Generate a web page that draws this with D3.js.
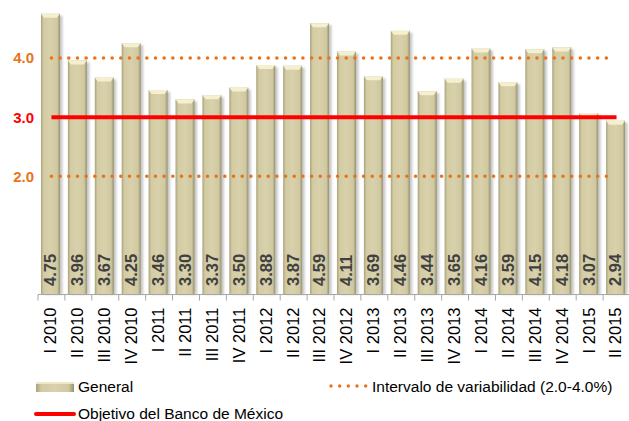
<!DOCTYPE html>
<html><head><meta charset="utf-8">
<script src="https://cdn.jsdelivr.net/npm/d3@7"></script>
<style>body{margin:0;background:#fff}svg{display:block}</style>
</head><body>
<script>
const categories = ["I 2010","II 2010","III 2010","IV 2010","I 2011","II 2011","III 2011","IV 2011","I 2012","II 2012","III 2012","IV 2012","I 2013","II 2013","III 2013","IV 2013","I 2014","II 2014","III 2014","IV 2014","I 2015","II 2015"];
const general = [4.75,3.96,3.67,4.25,3.46,3.30,3.37,3.50,3.88,3.87,4.59,4.11,3.69,4.46,3.44,3.65,4.16,3.59,4.15,4.18,3.07,2.94];
const target = 3.0;
const band = [2.0, 4.0];
const yTicks = [2.0, 3.0, 4.0];
const legendLabels = ["General","Intervalo de variabilidad (2.0-4.0%)","Objetivo del Banco de México"];

const W = 629, H = 421;
const svg = d3.select("body").append("svg").attr("width", W).attr("height", H);
const font = "'Liberation Sans', Arial, sans-serif";
const orange = "#E8731A", red = "#FF0000";

const x = d3.scaleBand().domain(categories).range([38, 630]).padding(0);
const y = d3.scaleLinear().domain([0, 5]).range([294.5, -1.1]);

const defs = svg.append("defs");
const g1 = defs.append("linearGradient").attr("id","barg").attr("x1","0").attr("x2","1").attr("y1","0").attr("y2","0");
[[0,"#A9A37D"],[0.14,"#D2CBA3"],[0.5,"#D8D1AB"],[0.86,"#CFC8A0"],[1,"#97916C"]].forEach(([o,c])=>g1.append("stop").attr("offset",o).attr("stop-color",c));
const f = defs.append("filter").attr("id","sh").attr("x","-50%").attr("y","-10%").attr("width","200%").attr("height","120%");
f.append("feGaussianBlur").attr("stdDeviation",1.2);

const bw = 19;
const bx = d => x(d) + x.bandwidth()/2 - bw/2 - 1;

// shadows
svg.append("g").selectAll("rect").data(categories).join("rect")
  .attr("x", d => bx(d) + 2.5).attr("y", (d,i) => y(general[i]) + 2)
  .attr("width", bw).attr("height", (d,i) => y(0) - y(general[i]) - 2)
  .attr("fill", "#9a9a9a").attr("opacity", 0.55).attr("filter","url(#sh)");
// bars
svg.append("g").selectAll("rect").data(categories).join("rect")
  .attr("x", d => bx(d)).attr("y", (d,i) => y(general[i]))
  .attr("width", bw).attr("height", (d,i) => y(0) - y(general[i]))
  .attr("fill", "url(#barg)");
// top bevel highlight
svg.append("g").selectAll("path").data(categories).join("path")
  .attr("d", (d,i) => { const x0 = bx(d), t = y(general[i]); return `M${x0},${t}L${x0+bw},${t}L${x0+bw-3},${t+4}L${x0+3},${t+4}Z`; })
  .attr("fill", "#F3EFCF");

// axis
const axisG = svg.append("g").attr("transform", `translate(0,${y(0)})`);
axisG.append("line").attr("x1", 38).attr("x2", 630).attr("stroke", "#A6A6A6");
axisG.selectAll("line.t").data(categories.concat(["_end"])).join("line").attr("class","t")
  .attr("x1", (d,i) => 38 + i*x.bandwidth()).attr("x2", (d,i) => 38 + i*x.bandwidth())
  .attr("y1", 0).attr("y2", 6).attr("stroke", "#A6A6A6");
axisG.selectAll("text").data(categories).join("text")
  .attr("transform", d => `translate(${x(d)+x.bandwidth()/2 - 1},13) rotate(-90)`)
  .attr("text-anchor","end").attr("dy","0.36em")
  .attr("font-family", font).attr("font-size", 16.5).attr("fill", "#000")
  .text(d => d);

// value labels
svg.append("g").selectAll("text").data(categories).join("text")
  .attr("transform", d => `translate(${bx(d)+bw/2},286) rotate(-90)`)
  .attr("text-anchor","start").attr("dy","0.36em")
  .attr("font-family", font).attr("font-size", 16.5).attr("font-weight","bold").attr("fill", "#404040")
  .text((d,i) => general[i].toFixed(2));

// variability band lines
const xc0 = x(categories[0]) + x.bandwidth()/2, xc1 = x(categories[categories.length-1]) + x.bandwidth()/2 - 2;
svg.append("g").selectAll("line").data(band).join("line")
  .attr("x1", xc0).attr("x2", xc1).attr("y1", d => y(d)).attr("y2", d => y(d))
  .attr("stroke", orange).attr("stroke-width", 3.6).attr("stroke-linecap","round")
  .attr("stroke-dasharray", "0 8.67");
// target line
svg.append("line").attr("x1", xc0).attr("x2", xc1 + 2).attr("y1", y(target)).attr("y2", y(target))
  .attr("stroke", red).attr("stroke-width", 4);

// y tick labels
svg.append("g").selectAll("text").data(yTicks).join("text")
  .attr("x", 34).attr("y", d => y(d)).attr("dy","0.36em").attr("text-anchor","end")
  .attr("font-family", font).attr("font-size", 15).attr("font-weight","bold")
  .attr("fill", d => d === target ? red : orange)
  .text(d => d.toFixed(1));

// legend
const lg = svg.append("g").attr("font-family", font).attr("font-size", 15.5).attr("fill","#000");
lg.append("rect").attr("x", 36).attr("y", 382).attr("width", 38).attr("height", 10).attr("fill","url(#barg)");
lg.append("rect").attr("x", 36).attr("y", 382).attr("width", 38).attr("height", 2).attr("fill","#EDE8C8");
lg.append("text").attr("x", 78).attr("y", 392).text(legendLabels[0]);
lg.append("line").attr("x1", 331).attr("x2", 367).attr("y1", 386).attr("y2", 386)
  .attr("stroke", orange).attr("stroke-width", 3.4).attr("stroke-linecap","round").attr("stroke-dasharray","0 8.67");
lg.append("text").attr("x", 372).attr("y", 392).text(legendLabels[1]);
lg.append("line").attr("x1", 36).attr("x2", 74).attr("y1", 414).attr("y2", 414).attr("stroke", red).attr("stroke-width", 4).attr("stroke-linecap","round");
lg.append("text").attr("x", 78).attr("y", 419).text(legendLabels[2]);
</script>
</body></html>
